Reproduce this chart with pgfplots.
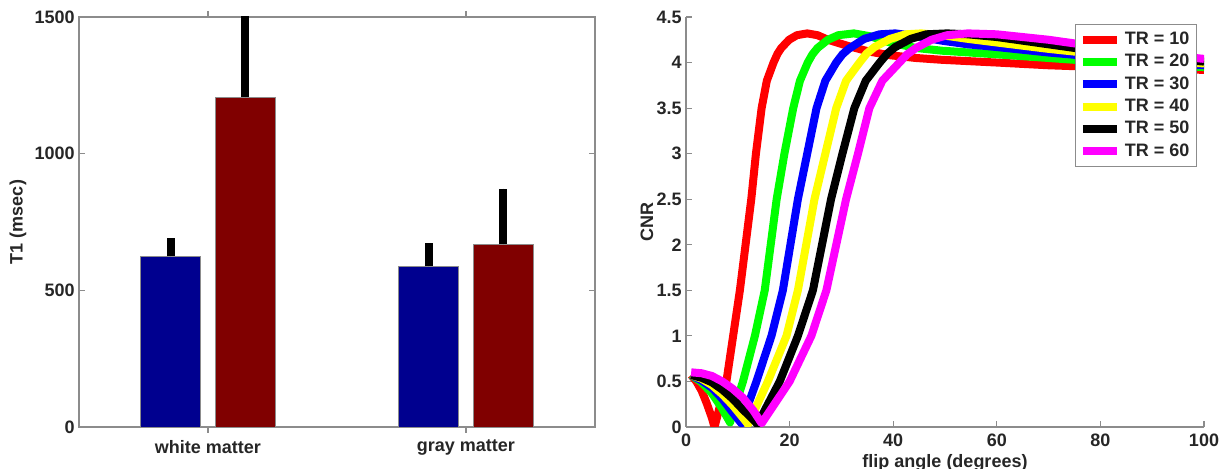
\documentclass[border=0pt]{standalone}
\usepackage{fontspec}
\setmainfont{Liberation Sans}
\usepackage{pgfplots}
\pgfplotsset{compat=1.18}

\definecolor{barblue}{RGB}{0,0,143}
\definecolor{barred}{RGB}{128,0,0}
\definecolor{axgray}{RGB}{140,140,140}
\definecolor{cred}{RGB}{255,0,0}
\definecolor{cgreen}{RGB}{0,255,0}
\definecolor{cblue}{RGB}{0,0,255}
\definecolor{cyellow}{RGB}{255,255,0}
\definecolor{cmag}{RGB}{255,0,255}

\pgfplotsset{
  mstyle/.style={
    scale only axis,
    axis line style={axgray, line width=0.6pt},
    tick style={axgray, line width=0.6pt},
    major tick length=3pt,
    tick align=inside,
    ticklabel style={font=\bfseries\small, text=black!85},
    yticklabel style={inner sep=2pt},
    label style={font=\bfseries\small, text=black!85},
    /pgf/number format/assume math mode=true,
    /pgf/number format/1000 sep={},
  },
}

\begin{document}
\begin{tikzpicture}

% left panel: T1 bars
\begin{axis}[mstyle,
  at={(39.5pt,21pt)}, anchor=south west,
  width=258pt, height=205pt,
  xmin=0.5, xmax=2.5,
  ymin=0, ymax=1500,
  xtick={1,2}, xticklabels={white matter, gray matter},
  ytick={0,500,1000,1500},
  ylabel={T1 (msec)},
  every axis y label/.style={at={(axis description cs:0,0.5)},
    xshift=-30.5pt, rotate=90, anchor=center,
    font=\bfseries\small, text=black!85},
  ybar, bar width=0.2326,
  clip=true,
]
\addplot+[bar shift=-0.145, fill=barblue, draw=axgray, line width=0.3pt,
  error bars/.cd, y dir=plus, y explicit, error mark=none,
  error bar style={black, line width=4pt}]
  coordinates {(1,624) +- (0,66) (2,588) +- (0,84)};
\addplot+[bar shift=0.145, fill=barred, draw=axgray, line width=0.3pt,
  error bars/.cd, y dir=plus, y explicit, error mark=none,
  error bar style={black, line width=4pt}]
  coordinates {(1,1206) +- (0,330) (2,668) +- (0,204)};
\end{axis}

% right panel: CNR vs flip angle
\begin{axis}[mstyle,
  at={(343pt,21pt)}, anchor=south west,
  width=259pt, height=205pt,
  axis x line*=bottom, axis y line*=left,
  xmin=0, xmax=100, ymin=0, ymax=4.5,
  xtick={0,20,...,100},
  ytick={0,0.5,...,4.5},
  yticklabels={0,0.5,1,1.5,2,2.5,3,3.5,4,4.5},
  xlabel={flip angle (degrees)},
  ylabel={CNR},
  xlabel style={yshift=3pt},
  every axis y label/.style={at={(axis description cs:0,0.5)},
    xshift=-19.5pt, rotate=90, anchor=center,
    font=\bfseries\small, text=black!85},
  legend style={at={(rel axis cs:0.986,0.982)}, anchor=north east,
    draw=axgray, fill=white, font=\bfseries\small, text=black!85,
    row sep=-0.6pt, inner sep=1.5pt},
  legend cell align=left,
  legend image code/.code={\draw[#1, line width=4pt] (0pt,0pt) -- (17pt,0pt);},
  every axis plot/.append style={line width=4pt, line join=round, no marks},
]
\addplot[cred] coordinates {
  (1,0.57) (2,0.5) (3,0.4) (4,0.26) (5,0.1) (5.5,0.0) (6.5,0.22) (7.8,0.5)
  (9.1,1.0) (10.4,1.5) (12.6,2.5) (13.5,3.0) (14.6,3.5) (15.6,3.8)
  (16.9,4.0) (17.7,4.1) (18.4,4.16) (19.9,4.25) (21.4,4.3) (23.4,4.32)
  (25.4,4.3) (27.4,4.25) (31.4,4.18) (35.4,4.12) (39.4,4.08) (44.4,4.05)
  (49.4,4.03) (60,4.0) (70,3.97) (80,3.95) (90,3.93) (100,3.92)
};
\addlegendentry{TR = 10}
\addplot[cgreen] coordinates {
  (1,0.57) (3,0.49) (5,0.37) (7,0.2) (8.5,0.05) (11,0.5) (13.3,1.0)
  (15.2,1.5) (17.5,2.5) (19,3.0) (20.7,3.5) (22,3.8)
  (23.5,4.0) (24.4,4.09) (25.4,4.16) (27.4,4.25) (29.4,4.3) (32.4,4.32)
  (35.4,4.29) (39.4,4.22) (44.4,4.16) (49.4,4.13) (60,4.09) (70,4.05)
  (80,4.01) (90,3.98) (100,3.95)
};
\addlegendentry{TR = 20}
\addplot[cblue] coordinates {
  (1,0.57) (3,0.51) (5,0.43) (7,0.31) (9,0.16) (10.7,0.04) (13.6,0.5)
  (16.5,1.0) (18.7,1.5) (21.6,2.5) (23.4,3.0) (25.2,3.5) (26.9,3.8)
  (29,4.0) (30.2,4.09) (31.4,4.15) (34.4,4.26) (37.4,4.31) (40.4,4.32)
  (44.4,4.29) (49.4,4.24) (54.4,4.2) (60,4.17) (70,4.11) (80,4.06)
  (90,4.01) (100,3.97)
};
\addlegendentry{TR = 30}
\addplot[cyellow] coordinates {
  (1,0.57) (3,0.53) (5,0.46) (7,0.36) (9,0.24) (11,0.1) (12,0.03)
  (15.8,0.5) (19.4,1.0) (21.6,1.5) (24.8,2.5) (26.9,3.0) (29,3.5)
  (30.9,3.8) (33.5,4.0) (34.9,4.1) (36.4,4.17) (39.4,4.26) (42.4,4.31)
  (45.4,4.32) (49.4,4.3) (54.4,4.26) (60,4.22) (70,4.15) (80,4.09)
  (90,4.03) (100,3.99)
};
\addlegendentry{TR = 40}
\addplot[black] coordinates {
  (1,0.57) (3,0.54) (5,0.49) (7,0.41) (9,0.31) (11,0.19) (13,0.08) (13.8,0.03)
  (18.1,0.5) (21.6,1.0) (24.5,1.5) (28,2.5) (30.2,3.0)
  (32.5,3.5) (34.7,3.8) (37.4,4.0) (38.9,4.1) (40.4,4.17) (43.4,4.26)
  (46.4,4.31) (50.4,4.32) (54.4,4.31) (60,4.28) (70,4.2) (80,4.12)
  (90,4.06) (100,4.01)
};
\addlegendentry{TR = 50}
\addplot[cmag] coordinates {
  (1,0.6) (3,0.59) (5,0.56) (7,0.5) (9,0.42) (11,0.32) (13,0.18) (14.6,0.04)
  (20,0.5) (24.2,1.0) (27.1,1.5) (30.9,2.5) (33.2,3.0) (35.4,3.5)
  (37.9,3.8) (41.2,4.0) (42.7,4.09) (44.4,4.16) (47.4,4.25) (50.4,4.3)
  (54.4,4.32) (60,4.31) (70,4.25) (80,4.17) (90,4.1) (100,4.04)
};
\addlegendentry{TR = 60}
\end{axis}

\pgfresetboundingbox
\path[use as bounding box] (0,0) rectangle (613pt,234.5pt);
\end{tikzpicture}
\end{document}
